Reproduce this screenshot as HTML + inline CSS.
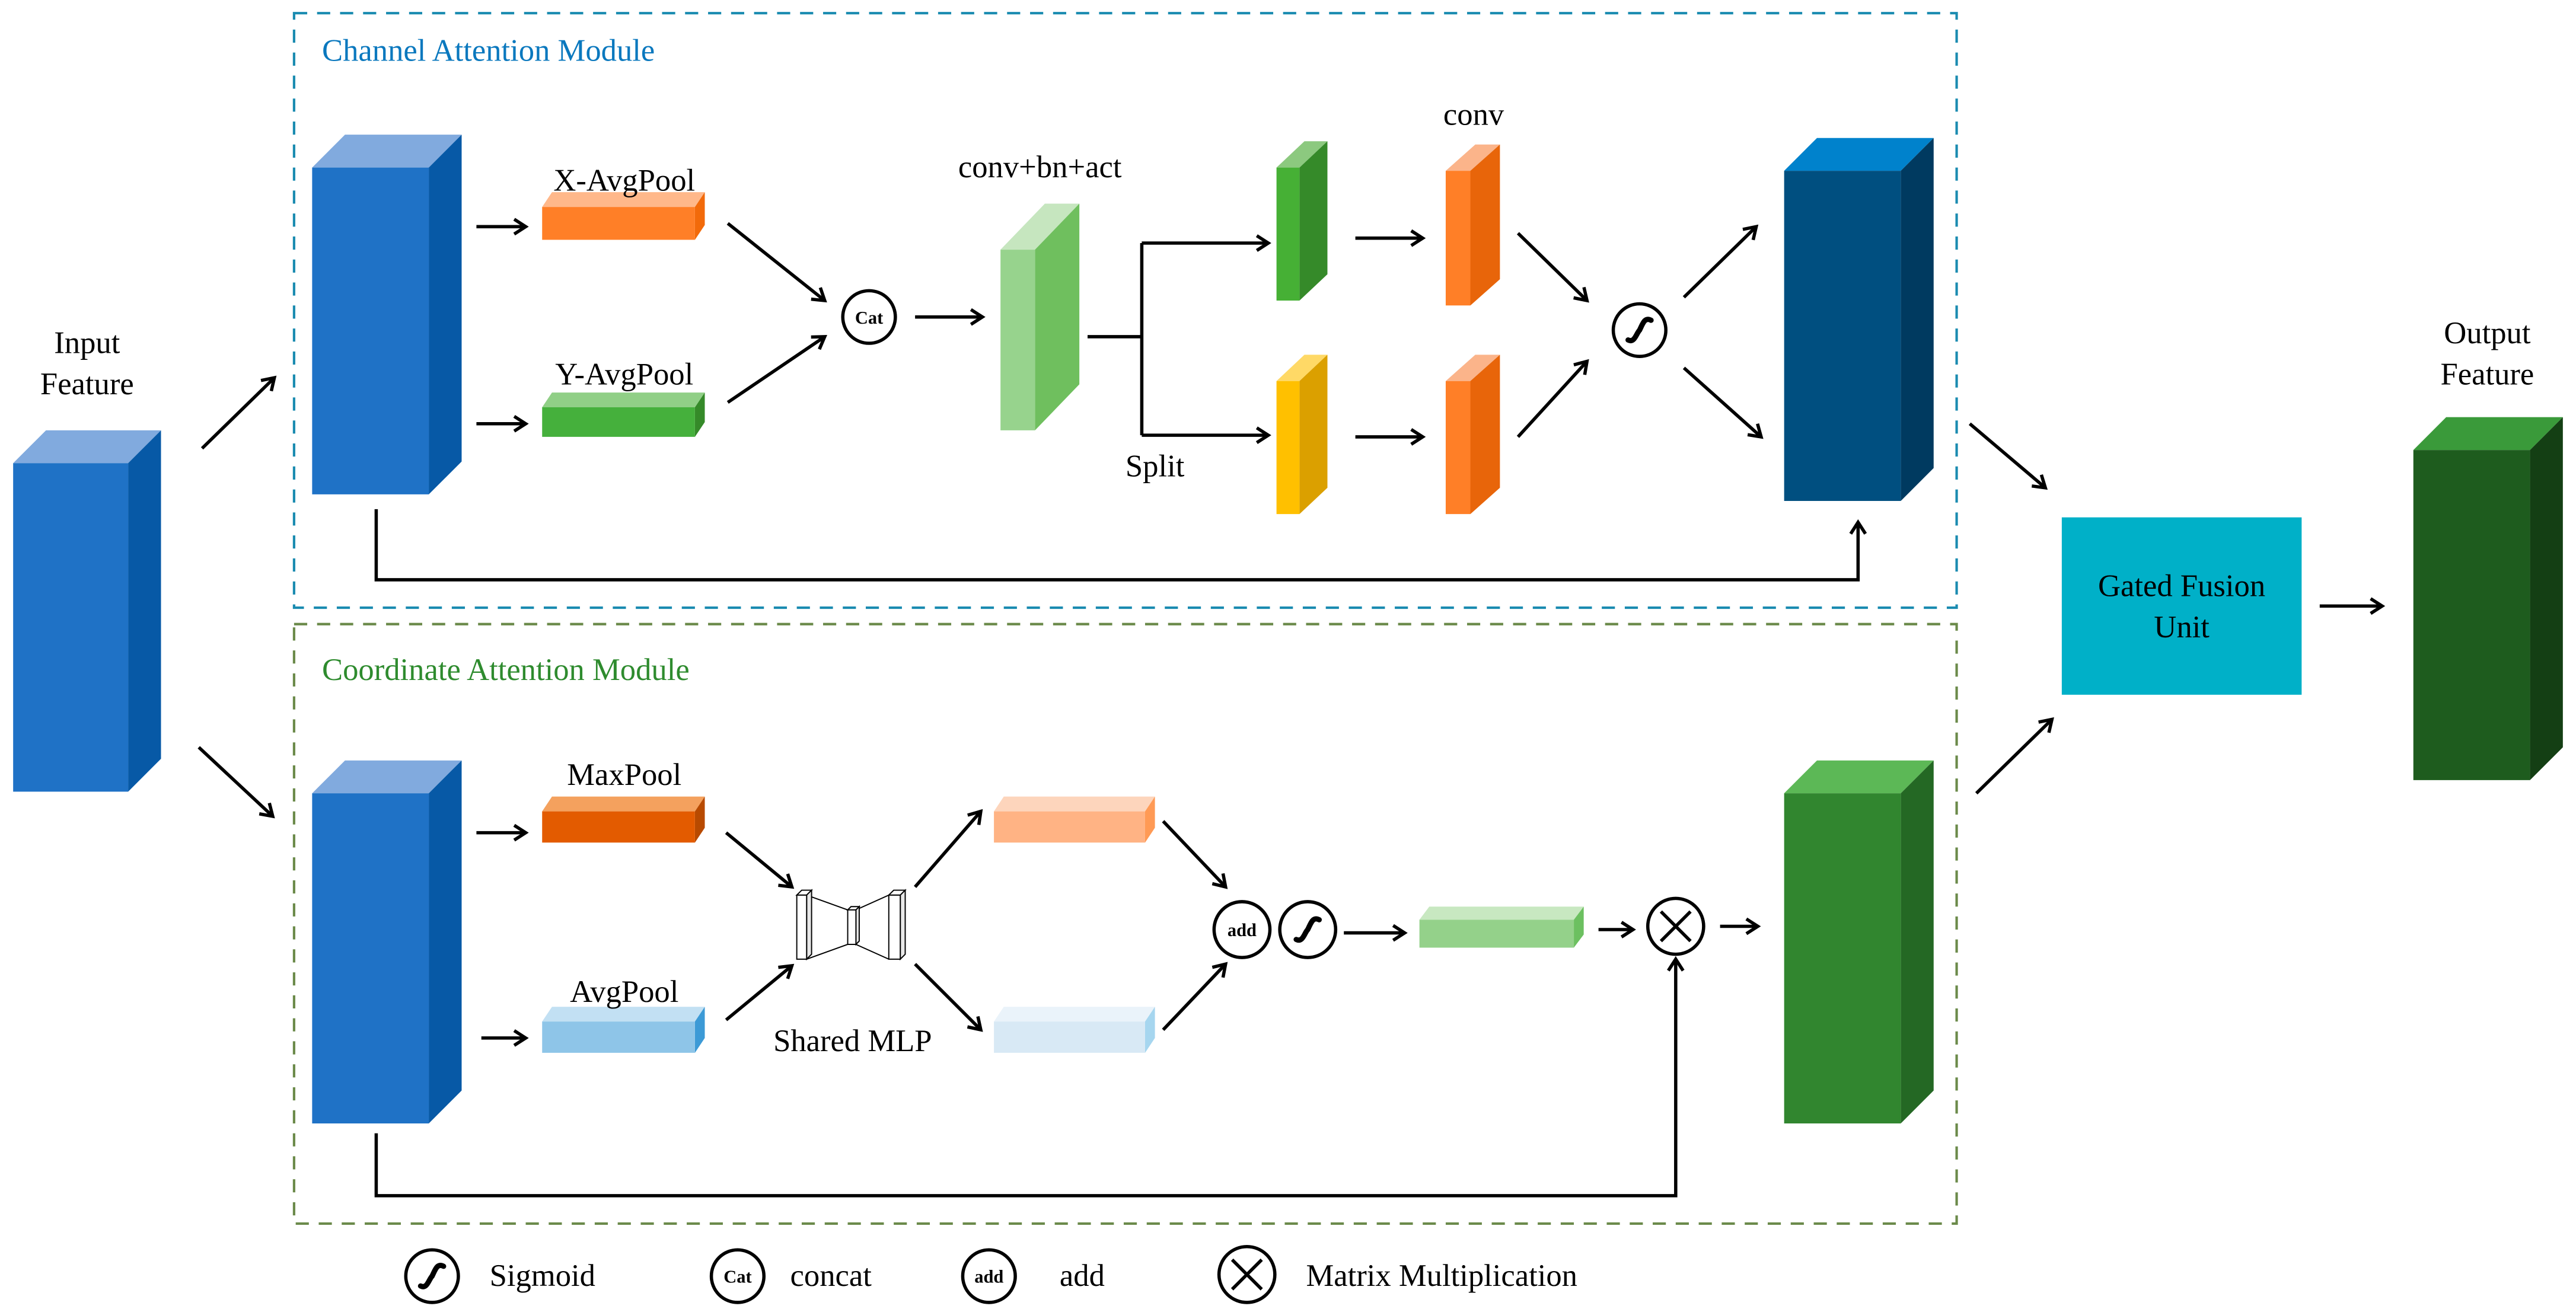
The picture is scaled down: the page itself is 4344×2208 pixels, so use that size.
<!DOCTYPE html>
<html><head><meta charset="utf-8"><style>
html,body{margin:0;padding:0;background:#fff;}
svg{display:block;}
</style></head><body>
<svg id="s" width="4344" height="2208" viewBox="0 0 1568 797" preserveAspectRatio="none" xmlns="http://www.w3.org/2000/svg" font-family="'Liberation Serif', serif">
<defs>
<marker id="ah" markerWidth="12" markerHeight="12" refX="9" refY="6" orient="auto" markerUnits="userSpaceOnUse">
<path d="M2,1.5 L9,6 L2,10.5" fill="none" stroke="#000" stroke-width="2"/>
</marker>
</defs>
<rect width="1568" height="797" fill="#fff"/>
<rect x="179" y="8" width="1012" height="362" fill="none" stroke="#1a8bb0" stroke-width="1.5" stroke-dasharray="8,6"/>
<rect x="179" y="380" width="1012" height="365" fill="none" stroke="#6b8a4a" stroke-width="1.5" stroke-dasharray="8,6"/>
<text x="196" y="37" font-size="19" fill="#0a78be" font-family="'Liberation Serif', serif">Channel Attention Module</text>
<text x="196" y="414" font-size="19" fill="#2e8b2e" font-family="'Liberation Serif', serif">Coordinate Attention Module</text>
<g id="shapes"></g>
<g id="lines" fill="none" stroke="#000" stroke-width="2"></g>
<g font-size="19" text-anchor="middle" fill="#000" font-family="'Liberation Serif', serif">
<text x="53" y="215">Input</text><text x="53" y="240">Feature</text>
<text x="1514" y="209">Output</text><text x="1514" y="234">Feature</text>
<text x="380" y="116">X-AvgPool</text>
<text x="380" y="234">Y-AvgPool</text>
<text x="633" y="108">conv+bn+act</text>
<text x="703" y="290">Split</text>
<text x="897" y="76">conv</text>
<text x="380" y="478">MaxPool</text>
<text x="380" y="610">AvgPool</text>
<text x="519" y="640">Shared MLP</text>
</g>
<rect x="1255" y="315" width="146" height="108" fill="#00b0c8"/>
<g font-size="19" text-anchor="middle" font-family="'Liberation Serif', serif"><text x="1328" y="363">Gated Fusion</text><text x="1328" y="388">Unit</text></g>
<g id="circ"></g>
<g font-size="19" fill="#000" font-family="'Liberation Serif', serif">
<text x="298" y="783">Sigmoid</text>
<text x="481" y="783">concat</text>
<text x="645" y="783">add</text>
<text x="795" y="783">Matrix Multiplication</text>
</g>
</svg>
<script>
var NS="http://www.w3.org/2000/svg";
var sh=document.getElementById('shapes'),ln=document.getElementById('lines'),ci=document.getElementById('circ');
function poly(g,pts,f){var p=document.createElementNS(NS,'polygon');p.setAttribute('points',pts.map(a=>a.join(',')).join(' '));p.setAttribute('fill',f);g.appendChild(p);}
function cube(x,y,w,h,dx,dy,front,top,side){
 poly(sh,[[x,y],[x+dx,y-dy],[x+w+dx,y-dy],[x+w,y]],top);
 poly(sh,[[x+w,y],[x+w+dx,y-dy],[x+w+dx,y+h-dy],[x+w,y+h]],side);
 poly(sh,[[x,y],[x+w,y],[x+w,y+h],[x,y+h]],front);
}
cube(8,282,70,200,20,20,'#1f72c6','#81aade','#0759a6');
cube(190,102,71,199,20,20,'#1f72c6','#81aade','#0759a6');
cube(190,483,71,201,20,20,'#1f72c6','#81aade','#0759a6');
cube(330,126,93,20,6,9,'#ff7f27','#ffb88a','#f26a0a');
cube(330,248,93,18,6,9,'#45b03c','#90cf86','#358a29');
cube(609,152,21,110,27,28,'#97d38d','#c6e6bf','#6fbf5e');
cube(777,102,14,81,17,16,'#46b035','#8cc97f','#358a29');
cube(777,232,14,81,17,16,'#ffc000','#ffd966','#dba000');
cube(880,104,15,82,18,16,'#ff7f27','#fbb48a','#e8650a');
cube(880,232,15,81,18,16,'#ff7f27','#fbb48a','#e8650a');
cube(1086,104,71,201,20,20,'#004f80','#0082cc','#003a60');
cube(1086,483,71,201,20,20,'#31862f','#5cb856','#246824');
cube(1469,274,71,201,20,20,'#1e5c1e','#3a9a3a','#143f14');
cube(330,494,93,19,6,9,'#e35b00','#f4a15e','#b84a00');
cube(330,622,93,19,6,9,'#8ec5e8','#c2e0f3','#3c9ad6');
cube(605,494,92,19,6,9,'#ffb384','#fdd5bc','#ff9a55');
cube(605,622,92,19,6,9,'#d8e9f5','#eaf3fa','#a6d6ef');
cube(864,560,94,17,6,8,'#94d18a','#c8e8c1','#6cc060');
var m=document.createElementNS(NS,'g');m.setAttribute('fill','#fff');m.setAttribute('stroke','#000');m.setAttribute('stroke-width','0.7');
m.innerHTML='<path d="M491,545 L516,554 M491,584 L516,575 M521,554 L541,545 M521,575 L541,584" fill="none"/>'+
'<polygon points="485,545 488,542 494,542 491,545"/><polygon points="491,545 494,542 494,581 491,584" fill="#e8e8e8"/><rect x="485" y="545" width="6" height="39"/>'+
'<polygon points="516,554 518,552 523,552 521,554"/><polygon points="521,554 523,552 523,573 521,575" fill="#e8e8e8"/><rect x="516" y="554" width="5" height="21"/>'+
'<polygon points="541,545 544,542 551,542 548,545"/><polygon points="548,545 551,542 551,581 548,584" fill="#e8e8e8"/><rect x="541" y="545" width="7" height="39"/>';
sh.appendChild(m);
function L(d,arrow){var p=document.createElementNS(NS,'path');p.setAttribute('d',d);if(arrow)p.setAttribute('marker-end','url(#ah)');ln.appendChild(p);}
var A=[[123,273,167,230],[121,455,166,497],[290,138,320,138],[290,258,320,258],[443,136,502,183],[443,245,502,205],[557,193,598,193],[825,145,866,145],[825,266,866,266],[924,142,966,183],[924,266,966,220],[1025,181,1069,138],[1025,224,1072,266],[1199,258,1245,297],[1203,483,1249,438],[1412,369,1450,369],[290,507,320,507],[293,632,320,632],[442,507,482,540],[442,621,482,588],[557,540,597,494],[557,587,597,627],[708,500,746,540],[708,627,746,587],[818,568,855,568],[973,566,994,566],[1047,564,1070,564]];
A.forEach(a=>L('M'+a[0]+','+a[1]+' L'+a[2]+','+a[3],true));
L('M662,205 L695,205');L('M695,148 L695,265');
L('M695,148 L772,148',true);L('M695,265 L772,265',true);
L('M229,310 L229,353 L1131,353 L1131,318',true);
L('M229,690 L229,728 L1020,728 L1020,584',true);
function circ(cx,cy,r,type){
 var g=document.createElementNS(NS,'g');
 var s='<circle cx="'+cx+'" cy="'+cy+'" r="'+r+'" fill="#fff" stroke="#000" stroke-width="2"/>';
 if(type=='sig')s+='<path d="M'+(cx-7)+','+(cy+6)+' C'+(cx-3)+','+(cy+8)+' '+(cx-2)+','+(cy+2)+' '+cx+','+cy+' C'+(cx+2)+','+(cy-4)+' '+(cx+3)+','+(cy-8)+' '+(cx+7)+','+(cy-6)+'" fill="none" stroke="#000" stroke-width="3.2" stroke-linecap="round"/>';
 if(type=='x')s+='<path d="M'+(cx-9)+','+(cy-9)+' L'+(cx+9)+','+(cy+9)+' M'+(cx+9)+','+(cy-9)+' L'+(cx-9)+','+(cy+9)+'" stroke="#000" stroke-width="2"/>';
 if(type=='cat')s+='<text x="'+cx+'" y="'+(cy+4)+'" font-size="11" font-weight="bold" text-anchor="middle" font-family="Liberation Serif,serif">Cat</text>';
 if(type=='add')s+='<text x="'+cx+'" y="'+(cy+4)+'" font-size="11" font-weight="bold" text-anchor="middle" font-family="Liberation Serif,serif">add</text>';
 g.innerHTML=s;ci.appendChild(g);
}
circ(529,193,16,'cat');circ(998,201,16,'sig');circ(756,566,17,'add');circ(796,566,17,'sig');circ(1020,564,17,'x');
circ(263,777,16,'sig');circ(449,777,16,'cat');circ(602,777,16,'add');circ(759,776,17,'x');
</script>
</body></html>
